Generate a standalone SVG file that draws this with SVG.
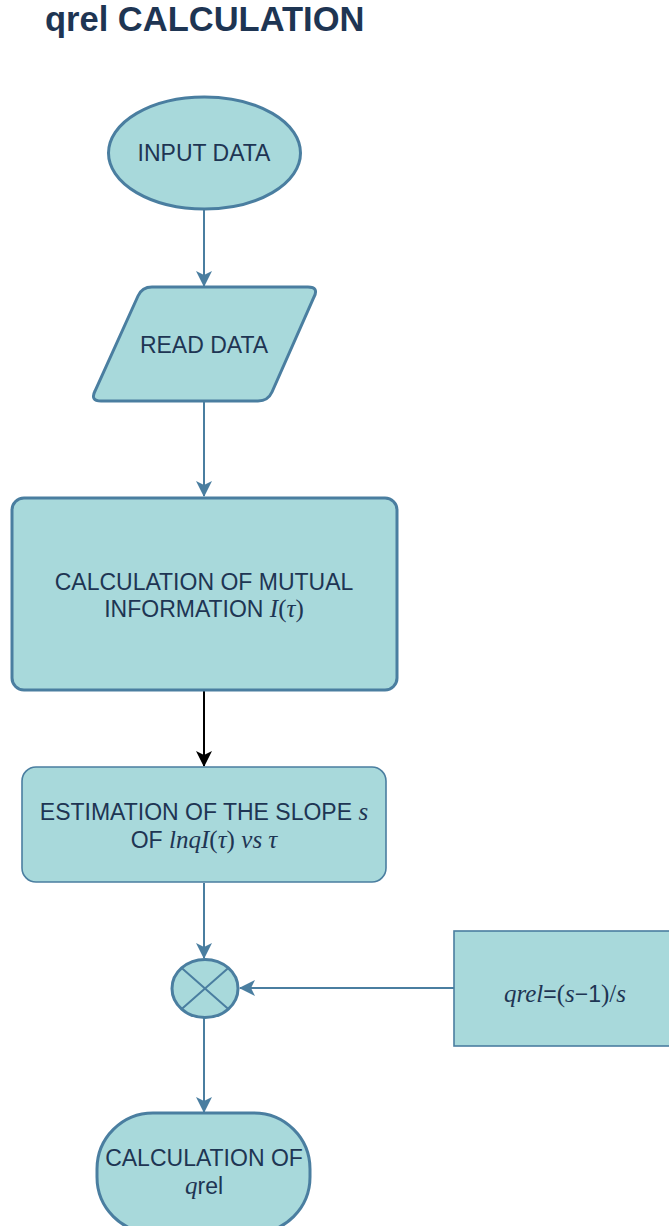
<svg xmlns="http://www.w3.org/2000/svg" width="669" height="1226" viewBox="0 0 669 1226">
<defs>
<style>
.node{fill:#a8d9db;stroke:#4a7ea0;stroke-width:3}
.thin{stroke-width:1.6}
.lbl{font-family:"Liberation Sans",Arial,sans-serif;font-size:23px;fill:#1e3553;text-anchor:middle}
.m{font-family:"Liberation Serif","DejaVu Serif",serif;font-style:italic;font-size:25px}
.mu{font-family:"Liberation Serif","DejaVu Serif",serif;font-size:25px}
.edge{fill:none;stroke:#4a7ea0;stroke-width:2}
</style>
<marker id="ah" markerWidth="16" markerHeight="16" refX="15" refY="8" orient="auto" markerUnits="userSpaceOnUse">
<path d="M0,0 L16,8 L0,16 L4,8 Z" fill="#4a7ea0"/>
</marker>
<marker id="ahk" markerWidth="16" markerHeight="16" refX="15" refY="8" orient="auto" markerUnits="userSpaceOnUse">
<path d="M0,0 L16,8 L0,16 L4,8 Z" fill="#000"/>
</marker>
</defs>
<rect width="669" height="1226" fill="#fff"/>
<text x="45" y="31" font-family="Liberation Sans,Arial,sans-serif" font-weight="bold" font-size="34.5" fill="#1e3553">qrel CALCULATION</text>

<g id="connectors">
<path class="edge" d="M204,209 V286" marker-end="url(#ah)"/>
<path class="edge" d="M204,402 V496" marker-end="url(#ah)"/>
<path d="M204,691 V766" fill="none" stroke="#000" stroke-width="2" marker-end="url(#ahk)"/>
<path class="edge" d="M204,883 V958" marker-end="url(#ah)"/>
<path class="edge" d="M454,988 H240" marker-end="url(#ah)"/>
<path class="edge" d="M204,1018 V1112" marker-end="url(#ah)"/>
</g>

<g id="input-data">
<ellipse class="node" cx="204.5" cy="153" rx="96" ry="56"/>
<text class="lbl" x="204" y="161">INPUT DATA</text>
</g>

<g id="read-data">
<path class="node" d="M152,287 H308 Q319,287 314,297 L272,392 Q268,401 258,401 H101 Q90,401 95,391 L138,296 Q142,287 152,287 Z"/>
<text class="lbl" x="204" y="353">READ DATA</text>
</g>

<g id="mutual-info">
<rect class="node" x="12" y="498" width="385" height="192" rx="12"/>
<text class="lbl" x="204" y="590">CALCULATION OF MUTUAL</text>
<text class="lbl" x="204" y="617">INFORMATION <tspan class="m">I</tspan><tspan class="mu">(</tspan><tspan class="m">τ</tspan><tspan class="mu">)</tspan></text>
</g>

<g id="slope">
<rect class="node thin" x="22" y="767" width="364" height="115" rx="14"/>
<text class="lbl" x="204" y="820">ESTIMATION OF THE SLOPE <tspan class="m">s</tspan></text>
<text class="lbl" x="204" y="848">OF <tspan class="m">lnqI</tspan><tspan class="mu">(</tspan><tspan class="m">τ</tspan><tspan class="mu">)</tspan> <tspan class="m">vs τ</tspan></text>
</g>

<g id="junction">
<ellipse class="node" cx="205" cy="988.5" rx="33" ry="29" stroke-width="2"/>
<path d="M181.7,968 L228.3,1009 M228.3,968 L181.7,1009" stroke="#4a7ea0" stroke-width="2"/>
</g>

<g id="qrel-formula">
<rect class="node thin" x="454" y="931" width="230" height="115"/>
<text class="lbl" x="565" y="1002"><tspan class="m">qrel</tspan>=<tspan class="mu">(</tspan><tspan class="m">s</tspan>−1<tspan class="mu">)/</tspan><tspan class="m">s</tspan></text>
</g>

<g id="calc-qrel">
<rect class="node" x="97" y="1113" width="213" height="120" rx="56"/>
<text class="lbl" x="204" y="1166">CALCULATION OF</text>
<text class="lbl" x="204" y="1194"><tspan class="m">q</tspan>rel</text>
</g>
</svg>
